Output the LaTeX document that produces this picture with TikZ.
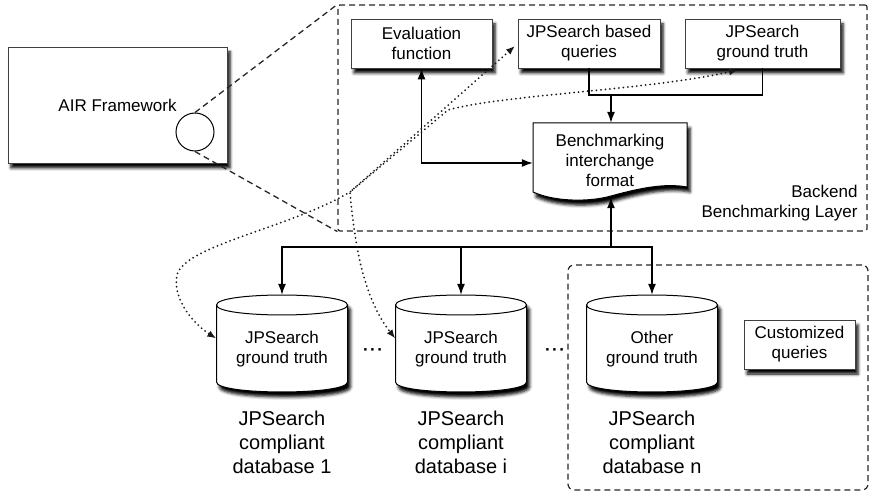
\documentclass[tikz,border=0pt]{standalone}
\usepackage{fontspec}
\setmainfont{Liberation Sans}
\usetikzlibrary{arrows.meta,shadows.blur,calc}
\newcommand\dbbody[1]{%
  \path[cylfill] (#1-65.5,305) -- (#1-65.5,382)
     .. controls (#1-65.5,395.3) and (#1+65.5,395.3) .. (#1+65.5,382)
     -- (#1+65.5,305)
     .. controls (#1+65.5,291.7) and (#1-65.5,291.7) .. (#1-65.5,305) -- cycle;
  \draw[line width=1pt] (#1-65.5,305)
     .. controls (#1-65.5,318.3) and (#1+65.5,318.3) .. (#1+65.5,305);
}
\begin{document}
\begin{tikzpicture}[x=1pt,y=-1pt,
  every node/.style={font=\fontsize{17}{20}\selectfont, align=center},
  shade/.style={blur shadow={shadow xshift=3pt, shadow yshift=-5pt, shadow blur radius=3pt, shadow opacity=100}},
  box/.style={draw=black!75, line width=0.8pt, fill=white, minimum width=#1,
              minimum height=49, inner sep=0, shade},
  cylfill/.style={draw=black, line width=1pt, fill=white, shade},
  zoomline/.style={draw=black!85, line width=1.3pt, dash pattern=on 6pt off 4pt},
  grpbox/.style={draw=black!85, line width=1.2pt, dash pattern=on 6pt off 4pt},
  arrow/.style={draw=black, line width=1.3pt, -{Latex[length=11pt,width=8pt]}},
  darrow/.style={draw=black, line width=1.3pt, {Latex[length=11pt,width=8pt]}-{Latex[length=11pt,width=8pt]}},
  dotlink/.style={draw=black!90, line width=2pt, dash pattern=on 0pt off 4.5pt, line cap=round,
                  {Latex[length=9pt,width=7pt]}-{Latex[length=9pt,width=7pt]}},
  label/.style={font=\fontsize{20}{24}\selectfont}
]
\useasboundingbox (0,0) rectangle (870,494);

% group boxes
\node[grpbox, minimum width=529, minimum height=226, rounded corners=2pt] (backend) at (602.5,118) {};
\node[grpbox, minimum width=300, minimum height=225, rounded corners=6pt] (other) at (718,377.5) {};
\node[anchor=east, align=right] (backlbl) at (861,203) {Backend\\Benchmarking Layer};

% AIR framework
\node[box=219, minimum height=116] (air) at (117.5,105) {AIR Framework};
\node[draw=black, line width=1pt, circle, minimum size=38, inner sep=0] (circ) at (195,132) {};
\draw[zoomline] (circ.north) -- (backend.north west);
\draw[zoomline] (circ.south) -- (backend.south west);

% top boxes
\node[box=141] (eval) at (421.5,43.5) {Evaluation\\function};
\node[box=142] (qry) at (589,43.5) {JPSearch based\\queries};
\node[box=155] (gt) at (762.5,43.5) {JPSearch\\ground truth};

% benchmarking interchange format (document)
\path[cylfill] (533,123) -- (687,123) -- (687,187)
  .. controls (665,183) and (640,188) .. (611,196)
  .. controls (590,202) and (555,202) .. (533,192) -- cycle;
\node[minimum width=154, minimum height=64, inner sep=0] (bif) at (610,155) {};
\node (biftext) at (610,160) {Benchmarking\\interchange\\format};

% connectors backend
\coordinate (jn) at (611,95);
\draw[line width=1.3pt] (qry.south) |- (jn) -| (gt.south);
\draw[arrow] (jn) -- (bif.north -| jn);
\draw[darrow] (eval.south) |- ([yshift=-8pt]bif.west);

% databases
\dbbody{282}
\dbbody{461}
\dbbody{652}
\node[minimum width=131, minimum height=97, inner sep=0] (c1) at (282,343.5) {};
\node[minimum width=131, minimum height=97, inner sep=0] (c2) at (461,343.5) {};
\node[minimum width=131, minimum height=97, inner sep=0] (c3) at (652,343.5) {};
\node (c1t) at (282,349) {JPSearch\\ground truth};
\node (c2t) at (461,349) {JPSearch\\ground truth};
\node (c3t) at (652,349) {Other\\ground truth};
\node (dots1) at (373,352) {\textbf{·\kern1.5pt·\kern1.5pt·}};
\node (dots2) at (555,352) {\textbf{·\kern1.5pt·\kern1.5pt·}};
\node[label] (c1l) at (282,442) {JPSearch\\compliant\\database 1};
\node[label] (c2l) at (461,442) {JPSearch\\compliant\\database i};
\node[label] (c3l) at (652,442) {JPSearch\\compliant\\database n};
\node[box=111] (cust) at (799.5,344.5) {Customized\\queries};

% bus
\coordinate (bus) at (611,247);
\draw[arrow] (bus) -- ([yshift=-10pt]bif.south -| bus);
\draw[arrow] (bus) -| (c1.north);
\draw[arrow] (bus) -| (c2.north);
\draw[arrow] (bus) -| (c3.north);

% dotted links
\coordinate (qtip) at (515,46);
\coordinate (gtip) at (738,70);
\draw[dotlink] (qtip) -- (350,192)
   .. controls (290,228) and (185,245) .. (177,275)
   .. controls (172,300) and (195,325) .. ([yshift=5pt]c1.west);
\draw[dotlink] (gtip) .. controls (650,90) and (500,95) .. (448,110) -- (350,192)
   .. controls (355,250) and (365,300) .. ([yshift=5pt]c2.west);
\end{tikzpicture}
\end{document}
